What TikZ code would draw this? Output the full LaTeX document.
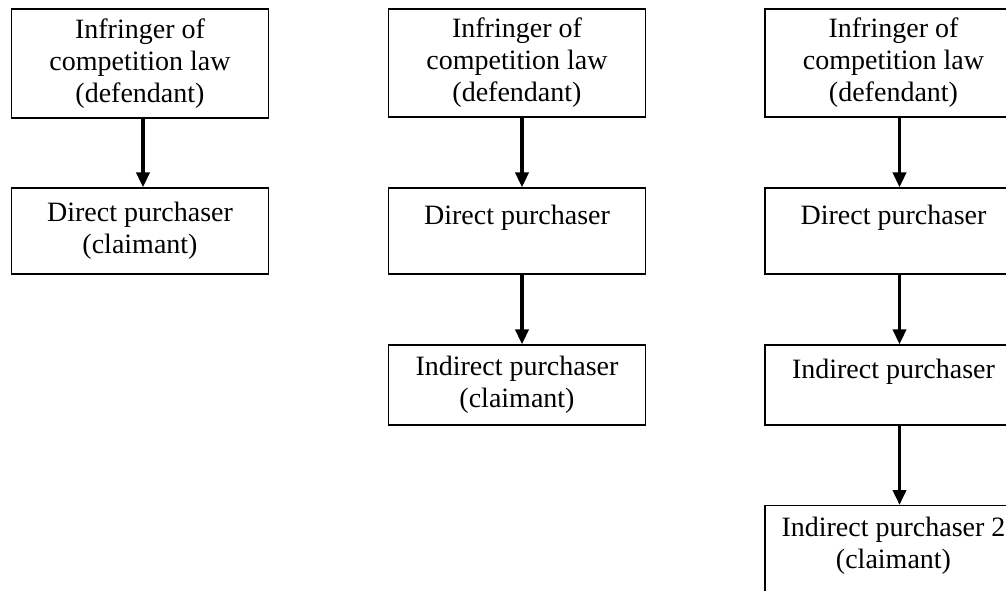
\documentclass[tikz,border=0pt]{standalone}
\usepackage{fontspec}
\setmainfont{Liberation Serif}
\usepackage{tikz}
\usetikzlibrary{positioning, arrows.meta}

\tikzset{
    party/.style={draw, line width=0.6pt, align=center, inner sep=0pt,
        minimum width=128.5pt, font=\fontsize{14pt}{16pt}\selectfont},
    flow/.style={-{Triangle[length=7.5pt,width=6.5pt]}, line width=1.8pt}
}

\begin{document}
\begin{tikzpicture}[x=0.5pt,y=-0.5pt]
    \useasboundingbox (0,0) rectangle (1006,590);
    \clip (0,0) rectangle (1006,590);
    % first case
    \node[party, minimum height=54.5pt](inf1) at (140,63.5){Infringer of\\competition law\\(defendant)};
    \node[party, minimum height=43pt](dir1) at (140,231){Direct purchaser\\(claimant)};
    \draw[flow]([xshift=1.5pt]inf1.south)--([xshift=1.5pt]dir1.north);
    % second case
    \node[party, minimum height=54pt](inf2) at (517,63){Infringer of\\competition law\\(defendant)};
    \node[party, minimum height=43pt](dir2) at (517,231){Direct purchaser\\~};
    \node[party, minimum height=40pt](ind2) at (517,385){Indirect purchaser\\(claimant)};
    \draw[flow]([xshift=2.5pt]inf2.south)--([xshift=2.5pt]dir2.north);
    \draw[flow]([xshift=2.5pt]dir2.south)--([xshift=2.5pt]ind2.north);
    % third case
    \node[party, minimum height=54pt](inf3) at (893.5,63){Infringer of\\competition law\\(defendant)};
    \node[party, minimum height=43pt](dir3) at (893.5,231){Direct purchaser\\~};
    \node[party, minimum height=40pt](ind3) at (893.5,385){Indirect purchaser\\~};
    \node[party, anchor=north, inner ysep=5.8pt](indb3) at (893.5,505){Indirect purchaser 2\\(claimant)\\~\\~};
    \draw[flow]([xshift=3pt]inf3.south)--([xshift=3pt]dir3.north);
    \draw[flow]([xshift=3pt]dir3.south)--([xshift=3pt]ind3.north);
    \draw[flow]([xshift=3pt]ind3.south)--([xshift=3pt]indb3.north);
\end{tikzpicture}
\end{document}
